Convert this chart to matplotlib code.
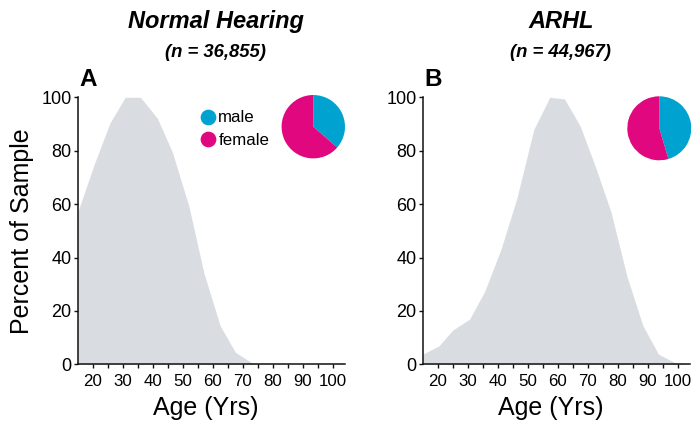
import matplotlib
matplotlib.use("Agg")
import matplotlib.pyplot as plt
from matplotlib.lines import Line2D

plt.rcParams["font.family"] = ["Liberation Sans", "DejaVu Sans"]

# Age distribution (percent of sample, normalised to peak)
nh_age = [15, 20.6, 25.7, 30.8, 35.9, 41.5, 46.5, 52.0, 57.0, 62.4, 67.5, 72.8, 77.0, 104]
nh_pct = [57, 75.2, 90.3, 100, 100, 92.2, 79.5, 59.3, 34.3, 14.5, 4.5, 0.7, 0, 0]

arhl_age = [15, 20.3, 25.0, 30.6, 35.6, 41.1, 46.3, 52.0, 57.3, 62.2, 67.4, 72.5, 77.7, 83.0, 88.3, 93.5, 99.0, 104]
arhl_pct = [3.8, 6.8, 12.8, 16.9, 27.2, 43.2, 62.0, 88.0, 100, 99.4, 89.3, 74.0, 57.0, 33.0, 14.5, 3.8, 0.6, 0]

# Sex composition (percent male / female)
sex_labels = ["male", "female"]
nh_sex = [36.4, 63.6]
arhl_sex = [45.4, 54.6]

panel_titles = ["Normal Hearing", "ARHL"]
panel_counts = ["(n = 36,855)", "(n = 44,967)"]
panel_letters = ["A", "B"]

x_ticks = [20, 30, 40, 50, 60, 70, 80, 90, 100]
x_minor = [25, 35, 45, 55, 65, 75, 85, 95]
y_ticks = [0, 20, 40, 60, 80, 100]

FILL = "#d9dce0"
MALE = "#00a3cf"
FEMALE = "#e0077f"

W, H = 691, 422
fig = plt.figure(figsize=(W / 100, H / 100), dpi=100)


def px_rect(x0, y0, x1, y1):
    return [x0 / W, 1 - y1 / H, (x1 - x0) / W, (y1 - y0) / H]


axes_px = [(77.7, 97.3, 345.0, 364.3), (422.7, 97.3, 690.0, 364.3)]
pie_px = [(313.3, 126.7, 31.7), (659.3, 128.3, 32.0)]
data = [(nh_age, nh_pct, nh_sex), (arhl_age, arhl_pct, arhl_sex)]

for i, (ages, pct, sex) in enumerate(data):
    x0, y0, x1, y1 = axes_px[i]
    ax = fig.add_axes(px_rect(x0, y0, x1, y1))
    ax.fill_between(ages, pct, 0, color=FILL, linewidth=0)
    ax.set_xlim(15, 104)
    ax.set_ylim(0, 100)
    ax.set_xticks(x_ticks)
    ax.set_xticklabels([str(t) for t in x_ticks])
    ax.set_xticks(x_minor, minor=True)
    ax.set_yticks(y_ticks)
    for s in ["top", "right"]:
        ax.spines[s].set_visible(False)
    for s in ["left", "bottom"]:
        ax.spines[s].set_linewidth(1.1)
        ax.spines[s].set_color("#111111")
    ax.tick_params(which="both", direction="out", length=2.8, width=1.0,
                   labelsize=13, pad=1.5, color="#111111")
    ax.tick_params(axis="x", which="both", pad=4.5, labelsize=12.2)
    ax.set_xlabel("Age (Yrs)", fontsize=18, va="center")
    ax.xaxis.set_label_coords((57.5 - 15) / 89, -(408.5 - y1) / (y1 - y0))
    if i == 0:
        ax.set_ylabel("Percent of Sample", fontsize=18, va="center")
        ax.yaxis.set_label_coords(-(x0 - 22) / (x1 - x0), 0.5)

    cx = (x0 + x1) / 2
    fig.text((cx + 5) / W, 1 - 21.7 / H, panel_titles[i], ha="center", va="center",
             fontsize=17, fontweight="bold", fontstyle="italic")
    fig.text((cx + 4) / W, 1 - 52.3 / H, panel_counts[i], ha="center", va="center",
             fontsize=13.3, fontweight="bold", fontstyle="italic")
    fig.text((x0 + 2) / W, 1 - 79.5 / H, panel_letters[i], ha="left", va="center",
             fontsize=17.5, fontweight="bold")

    # sex composition pie
    px, py, r = pie_px[i]
    pax = fig.add_axes(px_rect(px - r, py - r, px + r, py + r))
    pax.pie(sex, colors=[MALE, FEMALE], startangle=90, counterclock=False,
            wedgeprops=dict(linewidth=0))
    pax.set_xlim(-1, 1)
    pax.set_ylim(-1, 1)
    pax.set_aspect("equal")
    pax.axis("off")

    if i == 0:
        handles = [Line2D([], [], marker="o", linestyle="", markersize=10.3,
                          markerfacecolor=c, markeredgecolor=c)
                   for c in (MALE, FEMALE)]
        ax.legend(handles, sex_labels, loc="upper left",
                  bbox_to_anchor=((198 - x0) / (x1 - x0), 1 - (110.5 - y0) / (y1 - y0)),
                  frameon=False, fontsize=12.2, handletextpad=0.0,
                  labelspacing=0.45, borderpad=0, borderaxespad=0,
                  handlelength=1.2)

fig.savefig("out.png", dpi=100)
